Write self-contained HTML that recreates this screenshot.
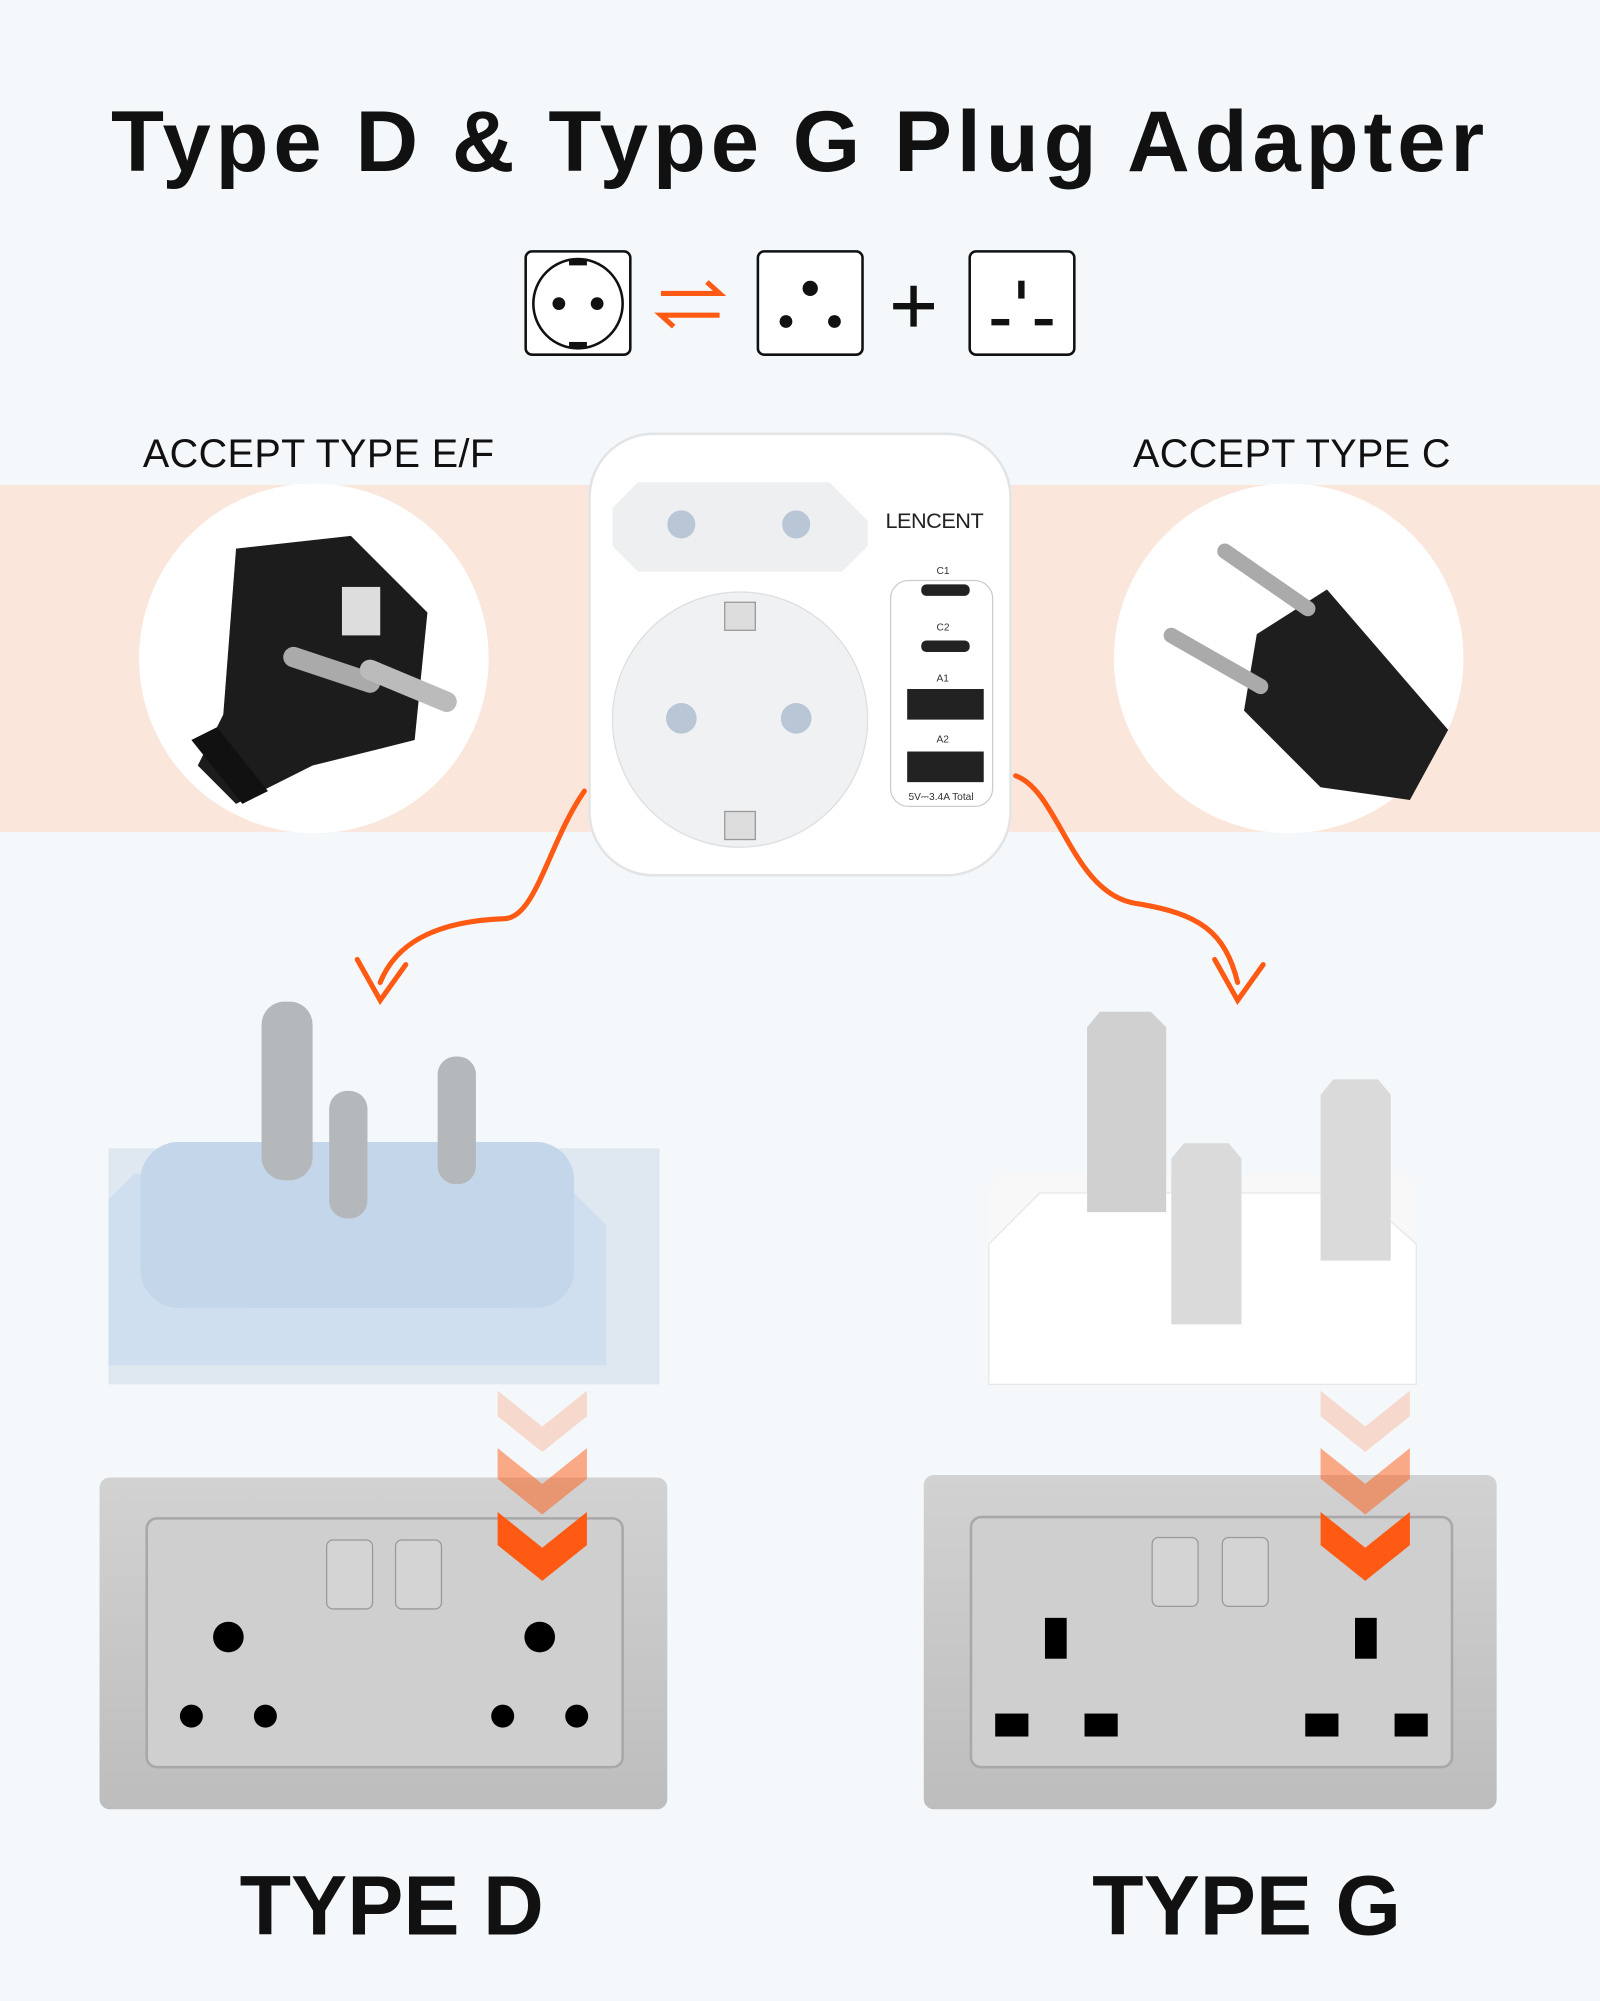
<!DOCTYPE html>
<html><head><meta charset="utf-8"><style>
html,body{margin:0;padding:0;background:#f4f8fb;width:1600px;height:2000px;overflow:hidden}
#w{position:absolute;left:0;top:0;width:1254px;height:1568px;transform:scale(1.27592);transform-origin:0 0;font-family:"Liberation Sans",sans-serif}
.a{position:absolute}
.t{font-weight:bold;color:#111}
</style></head><body><div id="w">
<div class="a t" style="left:0;width:1254px;top:72px;text-align:center;font-size:68px;letter-spacing:3.8px">Type D &amp; Type G Plug Adapter</div>
<svg class="a" style="left:0;top:0" width="1254" height="1568">
<g fill="#fff" stroke="#111" stroke-width="2">
<rect x="412" y="197" width="82" height="81" rx="5"/>
<rect x="594" y="197" width="82" height="81" rx="5"/>
<rect x="760" y="197" width="82" height="81" rx="5"/>
<circle cx="453" cy="238" r="35"/>
</g>
<rect x="446" y="203" width="14" height="5" fill="#111"/><rect x="446" y="268" width="14" height="5" fill="#111"/>
<circle cx="438" cy="238" r="5" fill="#111"/><circle cx="468" cy="238" r="5" fill="#111"/>
<circle cx="635" cy="226" r="6" fill="#111"/><circle cx="616" cy="252" r="5" fill="#111"/><circle cx="654" cy="252" r="5" fill="#111"/>
<rect x="798" y="220" width="5" height="14" fill="#111"/><rect x="777" y="250" width="14" height="5" fill="#111"/><rect x="811" y="250" width="14" height="5" fill="#111"/>
<g stroke="#ff5a14" stroke-width="4" fill="none"><path d="M518 230H564l-10-9M564 247H518l10 9"/></g>
<path d="M716 224v32M700 240h32" stroke="#111" stroke-width="5"/>
<rect x="0" y="380" width="1254" height="272" fill="#fbe6dc"/>
<circle cx="246" cy="516" r="137" fill="#fff"/><circle cx="1010" cy="516" r="137" fill="#fff"/>
<path d="M185 430l90-10 60 60 -10 100-80 20-40 20-20 10-30-30 20-40z" fill="#1c1c1c"/>
<path d="M150 580l40 50 20-10-40-50z" fill="#111"/>
<rect x="268" y="460" width="30" height="38" fill="#ddd"/>
<path d="M230 515l60 20" stroke="#aaa" stroke-width="16" stroke-linecap="round"/>
<path d="M290 525l60 25" stroke="#bbb" stroke-width="16" stroke-linecap="round"/>
<path d="M1040 462l95 110-30 55-70-10-60-60 10-60z" fill="#1e1e1e"/>
<path d="M960 432l65 45" stroke="#aaa" stroke-width="12" stroke-linecap="round"/>
<path d="M918 498l70 40" stroke="#aaa" stroke-width="12" stroke-linecap="round"/>
<rect x="462" y="340" width="330" height="346" rx="50" fill="#fff" stroke="#e2e4e6" stroke-width="2"/>
<path d="M500 378h150l30 30v20l-20 20H500l-20-20v-30z" fill="#eeeff1"/>
<circle cx="534" cy="411" r="11" fill="#b8c6d6"/><circle cx="624" cy="411" r="11" fill="#b8c6d6"/>
<circle cx="580" cy="564" r="100" fill="#f0f1f2" stroke="#dcdee0"/>
<circle cx="534" cy="563" r="12" fill="#b8c6d6"/><circle cx="624" cy="563" r="12" fill="#b8c6d6"/>
<rect x="568" y="472" width="24" height="22" fill="#ddd" stroke="#999"/><rect x="568" y="636" width="24" height="22" fill="#ddd" stroke="#999"/>
<rect x="698" y="455" width="80" height="177" rx="14" fill="none" stroke="#ccc"/>
<rect x="722" y="458" width="38" height="9" rx="4" fill="#222"/><rect x="722" y="502" width="38" height="9" rx="4" fill="#222"/>
<rect x="711" y="540" width="60" height="24" fill="#222"/><rect x="711" y="589" width="60" height="24" fill="#222"/>
<text x="694" y="414" font-size="17" fill="#222" textLength="77">LENCENT</text>
<g font-size="8" fill="#333"><text x="734" y="450">C1</text><text x="734" y="494">C2</text><text x="734" y="534">A1</text><text x="734" y="582">A2</text><text x="712" y="627">5V⎓3.4A Total</text></g>
<g stroke="#ff5a14" stroke-width="4" fill="none" stroke-linecap="round">
<path d="M458 620C430 660 420 720 395 720C340 722 310 740 298 770"/>
<path d="M280 752l18 32 20-28"/>
<path d="M796 608C830 620 840 700 890 708C940 716 960 730 970 770"/>
<path d="M952 752l18 32 20-28"/>
</g>
<rect x="85" y="900" width="432" height="185" fill="#dfe8f1"/>
<path d="M85 940l20-20h330l40 40v110H85z" fill="#cfdff0"/>
<rect x="110" y="895" width="340" height="130" rx="30" fill="#c3d6ea"/>
<rect x="205" y="785" width="40" height="140" rx="18" fill="#b5b8bb"/>
<rect x="258" y="855" width="30" height="100" rx="14" fill="#b5b8bb"/>
<rect x="343" y="828" width="30" height="100" rx="14" fill="#b5b8bb"/>
<rect x="775" y="920" width="335" height="165" rx="14" fill="#f8f8f8"/>
<path d="M775 975l40-40h250l45 40v110H775z" fill="#fff" stroke="#e6e6e6"/>
<path d="M852 805l10-12h40l12 12v145h-62z" fill="#d0d0d0"/>
<path d="M918 908l10-12h35l10 12v130h-55z" fill="#dadada"/>
<path d="M1035 858l10-12h35l10 12v130h-55z" fill="#dadada"/>
<defs><linearGradient id="g" x1="0" y1="0" x2="0" y2="1"><stop offset="0" stop-color="#d2d2d2"/><stop offset="1" stop-color="#bdbdbd"/></linearGradient></defs>
<rect x="78" y="1158" width="445" height="260" rx="8" fill="url(#g)"/>
<rect x="115" y="1190" width="373" height="195" rx="8" fill="#cfcfcf" stroke="#a8a8a8" stroke-width="2"/>
<rect x="256" y="1207" width="36" height="54" rx="5" fill="#d4d4d4" stroke="#999"/><rect x="310" y="1207" width="36" height="54" rx="5" fill="#d4d4d4" stroke="#999"/>
<g fill="#000"><circle cx="179" cy="1283" r="12"/><circle cx="423" cy="1283" r="12"/><circle cx="150" cy="1345" r="9"/><circle cx="208" cy="1345" r="9"/><circle cx="394" cy="1345" r="9"/><circle cx="452" cy="1345" r="9"/></g>
<rect x="724" y="1156" width="449" height="262" rx="8" fill="url(#g)"/>
<rect x="761" y="1189" width="377" height="196" rx="8" fill="#cfcfcf" stroke="#a8a8a8" stroke-width="2"/>
<rect x="903" y="1205" width="36" height="54" rx="5" fill="#d4d4d4" stroke="#999"/><rect x="958" y="1205" width="36" height="54" rx="5" fill="#d4d4d4" stroke="#999"/>
<g fill="#000"><rect x="819" y="1268" width="17" height="32"/><rect x="1062" y="1268" width="17" height="32"/><rect x="780" y="1343" width="26" height="18"/><rect x="850" y="1343" width="26" height="18"/><rect x="1023" y="1343" width="26" height="18"/><rect x="1093" y="1343" width="26" height="18"/></g>
<g fill="#ff5a14">
<path d="M390 1090l35 28 35-28v20l-35 28-35-28z" opacity=".2"/>
<path d="M390 1135l35 28 35-28v24l-35 28-35-28z" opacity=".5"/>
<path d="M390 1185l35 28 35-28v26l-35 28-35-28z"/>
<path d="M1035 1090l35 28 35-28v20l-35 28-35-28z" opacity=".2"/>
<path d="M1035 1135l35 28 35-28v24l-35 28-35-28z" opacity=".5"/>
<path d="M1035 1185l35 28 35-28v26l-35 28-35-28z"/>
</g>
</svg>
<div class="a" style="left:112px;top:338px;font-size:31px;color:#111;letter-spacing:0.3px">ACCEPT TYPE E/F</div>
<div class="a" style="left:888px;top:338px;font-size:31px;color:#111;letter-spacing:0.3px">ACCEPT TYPE C</div>
<div class="a t" style="left:107px;width:400px;text-align:center;top:1455px;font-size:66px">TYPE D</div>
<div class="a t" style="left:777px;width:400px;text-align:center;top:1455px;font-size:66px">TYPE G</div>
</div></body></html>
